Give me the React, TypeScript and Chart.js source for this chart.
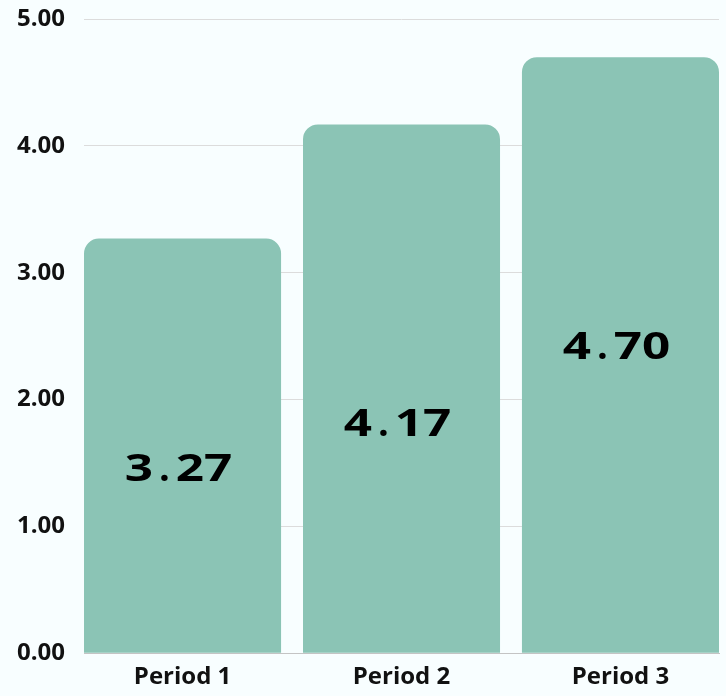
import React, { useEffect, useRef } from "react";
import { Chart, registerables } from "chart.js";

Chart.register(...registerables);

const categories = ["Period 1", "Period 2", "Period 3"];
const values = [3.27, 4.17, 4.7];
const yTicks = [0, 1, 2, 3, 4, 5];

const BAR_COLOR = "#8bc4b5";
const BG = "#f8feff";
const TEXT = "#111111";
const FONT = '"Open Sans", "Noto Sans", sans-serif';

// label anchor, as fraction of the bar's value (vertical placement of the label centre)
const labelAnchor = [0.447, 0.437, 0.516];

const valueLabelPlugin = {
  id: "valueLabels",
  afterDatasetsDraw(chart: any) {
    const ctx = chart.ctx;
    const meta = chart.getDatasetMeta(0);
    const y = chart.scales.y;
    const fontSize = 38;
    const k = 1.3;
    const periodPre = 6;
    const periodPost = 6;
    ctx.save();
    ctx.font = `bold ${fontSize}px ${FONT}`;
    ctx.fillStyle = "#000000";
    ctx.textBaseline = "alphabetic";
    ctx.textAlign = "left";
    meta.data.forEach((el: any, i: number) => {
      const text = values[i].toFixed(2);
      const chars = text.split("");
      const widths = chars.map((c) => {
        const w = ctx.measureText(c).width;
        return /\d/.test(c) ? w * k : w + periodPre + periodPost;
      });
      const total = widths.reduce((a, b) => a + b, 0);
      let x = el.x - total / 2 - 4;
      const cy = y.getPixelForValue(values[i] * labelAnchor[i]);
      const base = cy + (fontSize * 0.714) / 2;
      chars.forEach((c, j) => {
        ctx.save();
        if (/\d/.test(c)) {
          ctx.translate(x, base);
          ctx.scale(k, 1);
        } else {
          ctx.translate(x + periodPre, base);
        }
        ctx.fillText(c, 0, 0);
        ctx.restore();
        x += widths[j];
      });
    });
    ctx.restore();
  },
};

export default function App() {
  const ref = useRef<HTMLCanvasElement>(null);
  useEffect(() => {
    document.body.style.margin = "0";
    document.body.style.background = BG;
    if (!ref.current) return;
    const chart = new Chart(ref.current, {
      type: "bar",
      data: {
        datasets: [
          {
            data: values.map((v, i) => ({ x: i, y: v })),
            backgroundColor: BAR_COLOR,
            borderRadius: { topLeft: 15, topRight: 15, bottomLeft: 0, bottomRight: 0 },
            borderSkipped: "start",
            barPercentage: 0.9,
            categoryPercentage: 1,
          },
        ],
      },
      options: {
        animation: false,
        responsive: true,
        maintainAspectRatio: false,
        layout: { padding: { left: -2, right: 7, top: 0, bottom: -6 } },
        plugins: { legend: { display: false }, tooltip: { enabled: false } },
        scales: {
          x: {
            type: "linear",
            offset: false,
            min: -0.45,
            max: categories.length - 1 + 0.45,
            bounds: "data",
            afterBuildTicks: (s: any) => {
              s.ticks = categories.map((_, i) => ({ value: i }));
            },
            ticks: {
              autoSkip: false,
              maxRotation: 0,
              padding: 10,
              color: TEXT,
              font: { family: FONT, size: 24, weight: "bold" },
              callback: (v: any) => categories[v] ?? "",
            },
            grid: { display: false, drawTicks: false },
            border: { display: true, color: "#c4c4c4", width: 1 },
          },
          y: {
            min: 0,
            max: 5,
            afterBuildTicks: (s: any) => {
              s.ticks = yTicks.map((v) => ({ value: v }));
            },
            ticks: {
              padding: 19,
              color: TEXT,
              font: { family: FONT, size: 24, weight: "bold", lineHeight: 0.01 },
              callback: (v: any) => Number(v).toFixed(2),
            },
            grid: { color: "#dcdcdc", drawTicks: false, lineWidth: 1 },
            border: { display: false },
          },
        },
      },
      plugins: [valueLabelPlugin],
    });
    return () => chart.destroy();
  }, []);
  return (
    <div style={{ width: 726, height: 696, position: "relative" }}>
      <canvas ref={ref} />
    </div>
  );
}
